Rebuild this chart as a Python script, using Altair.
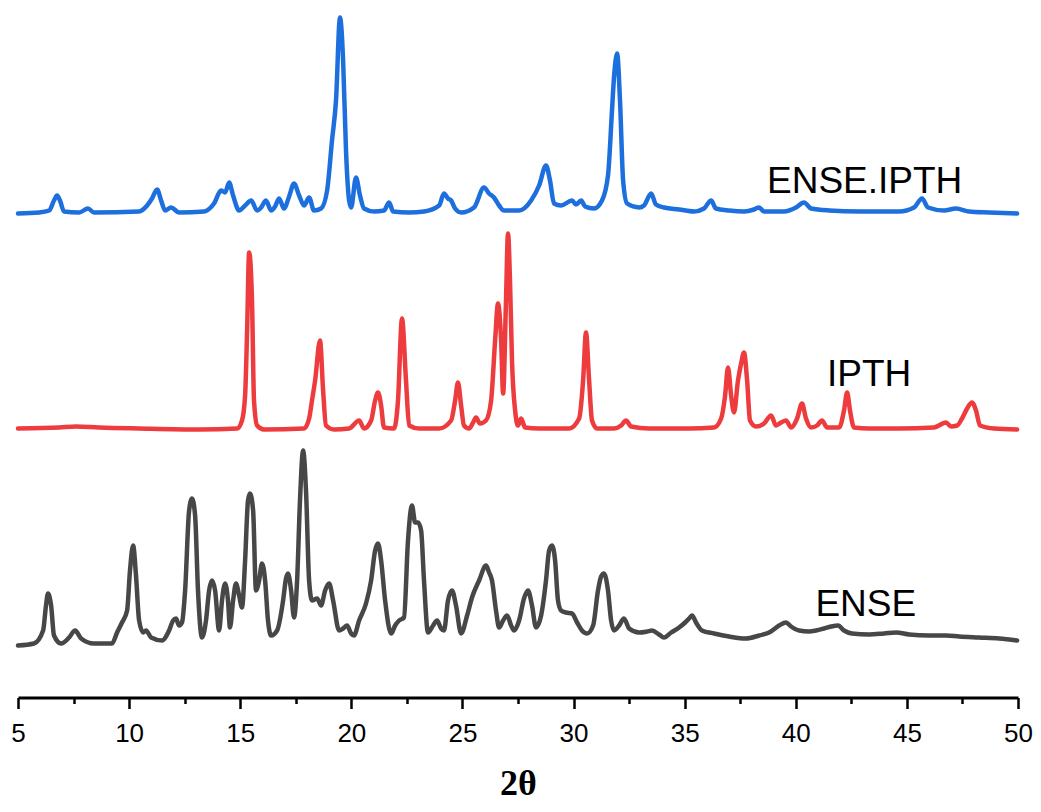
import altair as alt
import pandas as pd

# ---------------- data (2-theta in degrees, stacked intensity in a.u.) ----------------
ense_ipth_theta = [5.00, 5.95, 6.40, 6.62, 6.76, 6.89, 7.07, 7.75, 8.15, 8.42, 10.45, 10.81, 11.03, 11.26,
                   11.44, 11.62, 11.89, 12.25, 13.37, 13.82, 14.14, 14.32, 14.50, 14.68, 14.95, 15.22, 15.49,
                   15.76, 15.94, 16.16, 16.39, 16.57, 16.75, 16.97, 17.20, 17.42, 17.65, 17.87, 18.10, 18.32,
                   18.64, 18.91, 19.13, 19.31, 19.49, 19.63, 19.76, 19.90, 19.99, 20.21, 20.39, 20.57, 21.02,
                   21.47, 21.70, 21.88, 22.60, 23.27, 23.95, 24.17, 24.35, 24.49, 24.67, 24.94, 25.52, 25.97,
                   26.20, 26.42, 26.65, 26.87, 27.55, 28.09, 28.45, 28.76, 28.94, 29.12, 29.44, 29.93, 30.11,
                   30.34, 30.52, 30.92, 31.28, 31.55, 31.73, 31.82, 31.96, 32.09, 32.23, 32.41, 32.95, 33.17,
                   33.49, 33.71, 34.07, 34.75, 35.42, 35.87, 36.19, 36.41, 37.00, 37.67, 38.12, 38.35, 38.57,
                   39.47, 40.01, 40.37, 40.69, 41.50, 42.85, 44.65, 45.32, 45.68, 45.95, 46.67, 47.21, 47.80,
                   48.70, 49.96]
ense_ipth_int = [484, 485, 487, 497, 502, 497, 486, 485, 489, 485, 486, 492, 499, 508,
                 497, 487, 490, 485, 486, 494, 507, 505, 515, 502, 487, 492, 497,
                 487, 490, 497, 487, 491, 499, 489, 501, 514, 502, 492, 500, 487,
                 489, 507, 557, 597, 680, 637, 547, 497, 490, 520, 502, 489, 486,
                 487, 495, 486, 485, 486, 492, 504, 499, 497, 489, 485, 490, 510,
                 504, 500, 492, 487, 487, 497, 512, 532, 517, 494, 492, 497, 493,
                 497, 491, 489, 497, 522, 587, 620, 644, 597, 517, 494, 490, 492,
                 504, 493, 490, 488, 486, 489, 497, 489, 487, 486, 488, 490, 486,
                 486, 490, 495, 489, 487, 486, 486, 490, 499, 490, 487, 489, 486,
                 485, 484]

ipth_theta = [5.00, 6.85, 7.61, 8.65, 10.45, 13.15, 14.86, 15.08, 15.22, 15.31, 15.40, 15.53, 15.62, 15.76,
              16.07, 17.87, 18.10, 18.23, 18.37, 18.59, 18.73, 18.86, 19.22, 19.90, 20.35, 20.57, 20.89,
              21.07, 21.20, 21.34, 21.47, 21.92, 22.10, 22.28, 22.46, 22.60, 23.05, 23.95, 24.49, 24.67,
              24.80, 24.94, 25.07, 25.30, 25.48, 25.61, 25.79, 26.06, 26.29, 26.47, 26.60, 26.74, 26.83,
              26.96, 27.05, 27.14, 27.23, 27.37, 27.50, 27.64, 27.82, 28.45, 29.80, 30.25, 30.43, 30.56,
              30.70, 30.83, 31.06, 31.82, 32.14, 32.36, 32.59, 33.40, 35.20, 36.32, 36.64, 36.82, 36.95,
              37.09, 37.22, 37.40, 37.54, 37.67, 37.81, 37.94, 38.21, 38.57, 38.89, 39.11, 39.34, 39.56,
              39.79, 40.06, 40.28, 40.46, 40.69, 40.96, 41.18, 41.41, 41.95, 42.17, 42.31, 42.44, 42.62,
              43.30, 44.65, 46.22, 46.76, 46.99, 47.26, 47.48, 47.71, 47.93, 48.11, 48.29, 48.92, 49.96]
ipth_int = [269, 270, 271, 270, 269, 268, 269, 277, 302, 367, 445, 397, 297, 272,
            268, 269, 279, 297, 317, 357, 307, 272, 268, 269, 277, 269, 277,
            297, 305, 292, 270, 269, 297, 379, 317, 272, 269, 269, 277, 297,
            315, 292, 272, 269, 275, 280, 274, 277, 297, 357, 394, 357, 304,
            397, 464, 417, 337, 287, 272, 279, 270, 269, 269, 279, 317, 365,
            317, 277, 269, 269, 272, 277, 271, 269, 269, 270, 279, 302, 330,
            302, 285, 317, 334, 345, 317, 277, 271, 274, 282, 272, 275, 277,
            270, 279, 294, 279, 270, 272, 277, 270, 270, 287, 305, 287, 270,
            269, 269, 270, 275, 271, 272, 279, 289, 295, 287, 272, 269, 268]

ense_theta = [5.00, 5.72, 6.13, 6.26, 6.35, 6.49, 6.62, 6.94, 7.30, 7.57, 7.84, 8.42, 9.23, 9.46, 9.68,
              9.91, 10.04, 10.18, 10.31, 10.45, 10.63, 10.76, 10.99, 11.48, 11.80, 11.98, 12.11, 12.25,
              12.38, 12.52, 12.70, 12.83, 12.97, 13.10, 13.28, 13.46, 13.60, 13.73, 13.87, 14.05, 14.18,
              14.32, 14.45, 14.54, 14.68, 14.81, 14.95, 15.08, 15.22, 15.35, 15.44, 15.58, 15.71, 15.85,
              15.98, 16.12, 16.25, 16.39, 16.66, 16.93, 17.06, 17.15, 17.29, 17.42, 17.56, 17.69, 17.83,
              17.96, 18.10, 18.23, 18.46, 18.64, 18.82, 19.00, 19.18, 19.45, 19.63, 19.81, 19.99, 20.12,
              20.35, 20.66, 20.89, 21.07, 21.20, 21.34, 21.52, 21.79, 21.97, 22.15, 22.37, 22.55, 22.73,
              22.87, 23.00, 23.14, 23.27, 23.45, 23.68, 23.86, 24.04, 24.17, 24.35, 24.53, 24.71, 24.94,
              25.21, 25.43, 25.75, 26.06, 26.20, 26.33, 26.51, 26.65, 26.83, 27.01, 27.19, 27.32, 27.55,
              27.77, 27.95, 28.13, 28.31, 28.54, 28.76, 28.90, 29.03, 29.17, 29.30, 29.44, 29.66, 29.93,
              30.16, 30.38, 30.61, 30.88, 31.10, 31.24, 31.37, 31.55, 31.69, 31.82, 32.05, 32.27, 32.50,
              32.95, 33.31, 33.53, 33.85, 34.07, 34.39, 34.75, 35.02, 35.20, 35.33, 35.51, 35.78, 36.32,
              37.00, 37.76, 38.35, 38.80, 39.25, 39.56, 39.79, 40.15, 40.60, 40.91, 41.27, 41.59, 41.90,
              42.17, 42.53, 43.30, 43.97, 44.51, 45.10, 46.00, 46.76, 47.35, 48.25, 49.15, 49.96]
ense_int = [52, 54, 67, 92, 104, 92, 62, 54, 60, 67, 59, 54, 54, 65, 75,
            87, 127, 152, 122, 77, 65, 67, 60, 57, 67, 77, 79, 72,
            75, 107, 187, 199, 182, 107, 60, 77, 107, 117, 107, 67, 97,
            114, 97, 70, 97, 114, 102, 90, 137, 197, 204, 187, 107, 117,
            134, 117, 77, 62, 67, 97, 119, 124, 107, 80, 117, 197, 247,
            207, 117, 97, 99, 92, 107, 114, 97, 67, 69, 72, 64, 62,
            77, 94, 117, 147, 154, 137, 97, 64, 72, 77, 80, 157, 192,
            175, 175, 167, 117, 65, 72, 77, 69, 67, 97, 107, 92, 64,
            82, 100, 117, 132, 125, 117, 87, 70, 77, 82, 72, 67, 77,
            99, 107, 92, 70, 82, 117, 147, 152, 137, 97, 87, 85, 84,
            75, 67, 64, 72, 107, 121, 124, 107, 77, 67, 72, 79, 69,
            65, 66, 67, 63, 60, 65, 70, 75, 79, 82, 75, 67, 64,
            61, 59, 62, 65, 72, 75, 71, 67, 66, 67, 69, 71, 72,
            67, 64, 63, 64, 65, 63, 62, 62, 61, 60, 59, 57]

series_names = ["ENSE.IPTH", "IPTH", "ENSE"]
series_colors = ["#1E6FDE", "#EE3B3E", "#474747"]

label_texts = ["ENSE.IPTH", "IPTH", "ENSE"]
label_theta = [43.1, 43.3, 43.15]
label_int = [505, 312, 82]

major_ticks = [5, 10, 15, 20, 25, 30, 35, 40, 45, 50]
minor_ticks = [7.5, 12.5, 17.5, 22.5, 27.5, 32.5, 37.5, 42.5, 47.5]

# ---------------- tables ----------------
rows = []
for name, th, iv in zip(series_names,
                        [ense_ipth_theta, ipth_theta, ense_theta],
                        [ense_ipth_int, ipth_int, ense_int]):
    for i, (t, v) in enumerate(zip(th, iv)):
        rows.append({"series": name, "theta": t, "intensity": v, "order": i})
df = pd.DataFrame(rows)

lab_df = pd.DataFrame({"label": label_texts, "theta": label_theta, "intensity": label_int})

xscale = alt.Scale(domain=[5, 50], nice=False, zero=False)
yscale = alt.Scale(domain=[0, 681], nice=False, zero=False)

lines = alt.Chart(df).mark_line(strokeWidth=4.5, strokeJoin="round", strokeCap="round",
                                interpolate="monotone").encode(
    x=alt.X("theta:Q", scale=xscale,
            axis=alt.Axis(values=major_ticks, orient="bottom", title="2θ", grid=False,
                          tickSize=11, tickWidth=2.5, tickColor="black",
                          domain=True, domainColor="black", domainWidth=3,
                          labelFont="Liberation Sans", labelFontSize=26, labelColor="black",
                          labelPadding=12, labelFlush=False,
                          titleFont="Liberation Serif", titleFontSize=36, titleFontWeight="bold",
                          titleColor="black", titlePadding=20)),
    y=alt.Y("intensity:Q", scale=yscale, axis=None),
    color=alt.Color("series:N", scale=alt.Scale(domain=series_names, range=series_colors), legend=None),
    order="order:Q",
)

labels = alt.Chart(lab_df).mark_text(font="Liberation Sans", fontSize=37, align="center",
                                     baseline="alphabetic", color="black").encode(
    x=alt.X("theta:Q", scale=xscale,
            axis=alt.Axis(values=minor_ticks, orient="bottom", title=None, grid=False,
                          tickSize=6, tickWidth=2.5, tickColor="black",
                          labels=False, domain=False)),
    y=alt.Y("intensity:Q", scale=yscale, axis=None),
    text="label:N",
)

chart = alt.layer(lines, labels).resolve_axis(x="independent").properties(
    width=1000,
    height=681,
    autosize=alt.AutoSizeParams(type="none"),
    padding={"left": 10, "top": 8.5, "right": 15, "bottom": 105},
    background="white",
).configure_view(stroke=None)

chart.save("out.html", embed_options={"renderer": "svg", "actions": False})
